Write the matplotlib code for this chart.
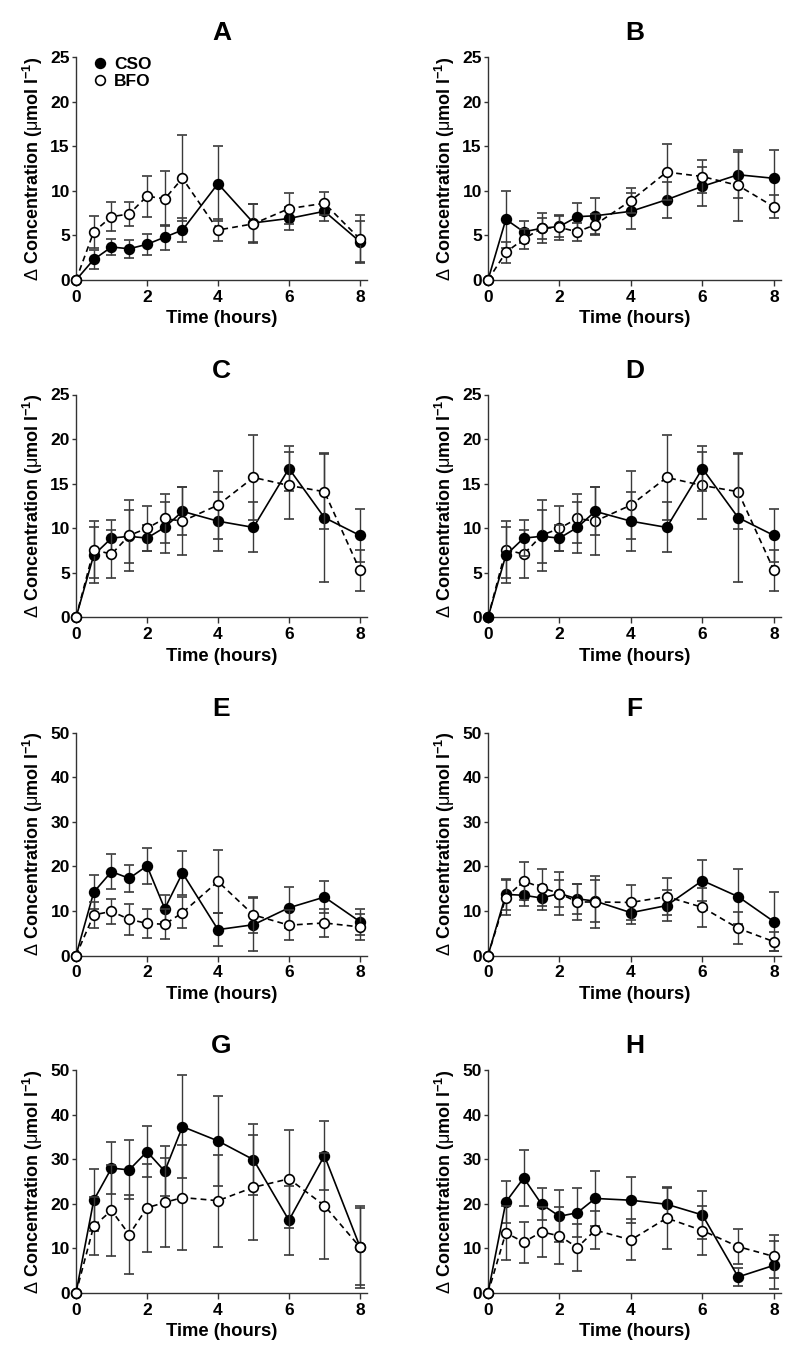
import matplotlib
matplotlib.use("Agg")
import matplotlib.pyplot as plt
from matplotlib.lines import Line2D

plt.rcParams["font.family"] = ["Liberation Sans", "DejaVu Sans"]
plt.rcParams["mathtext.fontset"] = "custom"
plt.rcParams["mathtext.rm"] = "Liberation Sans"
plt.rcParams["mathtext.bf"] = "Liberation Sans:bold"
plt.rcParams["mathtext.it"] = "Liberation Sans:italic"

# sampling times (hours)
time_h = [0, 0.5, 1, 1.5, 2, 2.5, 3, 4, 5, 6, 7, 8]

# panel A
a_cso = [0, 2.3, 3.7, 3.5, 4.0, 4.8, 5.6, 10.8, 6.4, 6.9, 7.7, 4.3]
a_cso_err = [0, 1.1, 0.9, 1.0, 1.2, 1.4, 1.3, 4.2, 2.1, 1.3, 1.1, 2.3]
a_bfo = [0, 5.4, 7.1, 7.4, 9.4, 9.1, 11.4, 5.6, 6.3, 8.0, 8.6, 4.6]
a_bfo_err = [0, 1.8, 1.6, 1.4, 2.3, 3.1, 4.8, 1.2, 2.2, 1.7, 1.3, 2.7]

# panel B
b_cso = [0, 6.8, 5.4, 5.8, 6.0, 7.1, 7.2, 7.7, 9.0, 10.5, 11.8, 11.4]
b_cso_err = [0, 3.2, 1.2, 1.2, 1.2, 1.5, 2.0, 2.0, 2.0, 2.2, 2.6, 3.2]
b_bfo = [0, 3.1, 4.6, 5.8, 5.9, 5.4, 6.2, 8.9, 12.1, 11.6, 10.6, 8.2]
b_bfo_err = [0, 1.2, 1.1, 1.7, 1.4, 1.0, 1.2, 1.4, 3.1, 1.9, 4.0, 1.3]

# panel C
c_cso = [0, 7.0, 8.9, 9.1, 8.9, 10.1, 11.9, 10.8, 10.1, 16.7, 11.2, 9.2]
c_cso_err = [0, 3.1, 2.0, 3.0, 1.5, 2.9, 2.7, 3.3, 2.8, 2.5, 7.2, 3.0]
c_bfo = [0, 7.6, 7.1, 9.2, 10.0, 11.1, 10.8, 12.6, 15.7, 14.8, 14.1, 5.3]
c_bfo_err = [0, 3.2, 2.7, 4.0, 2.5, 2.7, 3.8, 3.8, 4.8, 3.8, 4.2, 2.3]

# panel D (same values as C in the original figure)
d_cso = [0, 7.0, 8.9, 9.1, 8.9, 10.1, 11.9, 10.8, 10.1, 16.7, 11.2, 9.2]
d_cso_err = [0, 3.1, 2.0, 3.0, 1.5, 2.9, 2.7, 3.3, 2.8, 2.5, 7.2, 3.0]
d_bfo = [0, 7.6, 7.1, 9.2, 10.0, 11.1, 10.8, 12.6, 15.7, 14.8, 14.1, 5.3]
d_bfo_err = [0, 3.2, 2.7, 4.0, 2.5, 2.7, 3.8, 3.8, 4.8, 3.8, 4.2, 2.3]

# panel E
e_cso = [0, 14.2, 18.8, 17.3, 20.1, 10.5, 18.5, 5.8, 6.9, 10.7, 13.1, 7.6]
e_cso_err = [0, 3.8, 4.0, 3.0, 4.0, 3.1, 5.0, 3.7, 5.9, 4.6, 3.5, 2.9]
e_bfo = [0, 9.1, 9.9, 8.1, 7.2, 7.0, 9.6, 16.6, 9.1, 6.8, 7.3, 6.4]
e_bfo_err = [0, 3.0, 2.8, 3.4, 3.3, 3.4, 3.5, 7.0, 4.1, 3.3, 3.1, 2.9]

# panel F
f_cso = [0, 13.7, 13.5, 12.9, 13.9, 12.7, 12.2, 9.6, 11.2, 16.8, 13.2, 7.6]
f_cso_err = [0, 3.5, 2.4, 2.8, 3.0, 3.4, 4.7, 2.6, 3.4, 4.6, 6.1, 6.6]
f_bfo = [0, 13.0, 16.7, 15.2, 13.9, 12.0, 12.0, 11.9, 13.2, 10.8, 6.1, 3.1]
f_bfo_err = [0, 3.9, 4.2, 4.1, 4.8, 4.0, 5.8, 3.9, 4.2, 4.3, 3.6, 2.2]

# panel G
g_cso = [0, 20.8, 28.0, 27.6, 31.7, 27.3, 37.3, 34.1, 29.9, 16.3, 30.8, 10.4]
g_cso_err = [0, 6.9, 5.8, 6.6, 5.8, 5.6, 11.5, 10.0, 7.9, 7.8, 7.8, 8.7]
g_bfo = [0, 15.0, 18.5, 13.1, 19.1, 20.3, 21.4, 20.7, 23.7, 25.6, 19.6, 10.3]
g_bfo_err = [0, 6.5, 10.2, 8.9, 9.9, 10.0, 11.8, 10.3, 11.8, 11.0, 11.9, 9.1]

# panel H
h_cso = [0, 20.4, 25.8, 19.9, 17.2, 18.0, 21.2, 20.8, 19.9, 17.5, 3.6, 6.2]
h_cso_err = [0, 4.8, 6.2, 3.6, 5.8, 5.5, 6.2, 5.2, 3.7, 5.3, 2.0, 5.4]
h_bfo = [0, 13.5, 11.4, 13.7, 12.8, 10.2, 14.1, 11.9, 16.8, 14.0, 10.4, 8.2]
h_bfo_err = [0, 6.0, 4.6, 5.6, 6.4, 5.2, 4.2, 4.6, 6.9, 5.4, 4.0, 4.8]

panel_names = ["A", "B", "C", "D", "E", "F", "G", "H"]
panel_ymax = [25, 25, 25, 25, 50, 50, 50, 50]
panel_ystep = [5, 5, 5, 5, 10, 10, 10, 10]
panels = [
    (a_cso, a_cso_err, a_bfo, a_bfo_err),
    (b_cso, b_cso_err, b_bfo, b_bfo_err),
    (c_cso, c_cso_err, c_bfo, c_bfo_err),
    (d_cso, d_cso_err, d_bfo, d_bfo_err),
    (e_cso, e_cso_err, e_bfo, e_bfo_err),
    (f_cso, f_cso_err, f_bfo, f_bfo_err),
    (g_cso, g_cso_err, g_bfo, g_bfo_err),
    (h_cso, h_cso_err, h_bfo, h_bfo_err),
]

W, H = 800, 1364
fig = plt.figure(figsize=(W / 100, H / 100), dpi=100)

# axes boxes in pixels: left, top, width, height
col_left = [76, 488]
col_width = [291, 293]
row_top = [57, 394.5, 732.5, 1070]
ax_h = 223

ylabel = r"$\Delta$ Concentration ($\mathrm{\mu}$mol l$^{\mathbf{-1}}$)"
err_color = "#3a3a3a"
msize = 7

for i, name in enumerate(panel_names):
    r, c = divmod(i, 2)
    left, top, w = col_left[c], row_top[r], col_width[c]
    ax = fig.add_axes([left / W, 1 - (top + ax_h) / H, w / W, ax_h / H])
    cso, cso_err, bfo, bfo_err = panels[i]

    # BFO drawn on top except in panel D
    z_cso, z_bfo = (4, 3) if name == "D" else (3, 4)

    ax.errorbar(time_h, cso, yerr=cso_err, color="black", lw=1.2,
                marker="o", ms=msize, mfc="black", mec="black", mew=1.2,
                ecolor=err_color, elinewidth=1, capsize=3.6, capthick=1,
                zorder=z_cso)
    ax.errorbar(time_h, bfo, yerr=bfo_err, color="black", lw=1.2,
                ls=(0, (3.5, 2.5)), marker="o", ms=msize, mfc="white",
                mec="black", mew=1.2, ecolor=err_color, elinewidth=1,
                capsize=3.6, capthick=1, zorder=z_bfo)

    for art in ax.lines + ax.collections:
        art.set_clip_on(False)

    ax.set_xlim(0, 8.2)
    ax.set_ylim(0, panel_ymax[i])
    ax.set_xticks([0, 2, 4, 6, 8])
    ax.set_yticks(range(0, panel_ymax[i] + 1, panel_ystep[i]))
    for sp in ["top", "right"]:
        ax.spines[sp].set_visible(False)
    for sp in ["left", "bottom"]:
        ax.spines[sp].set_color("#333333")
        ax.spines[sp].set_linewidth(1.0)
    ax.tick_params(axis="y", length=3, width=1, pad=1.5, color="#333333",
                   labelsize=12.5)
    ax.tick_params(axis="x", length=4, width=1, pad=3, color="#333333",
                   labelsize=12.5)
    for lab in ax.get_xticklabels() + ax.get_yticklabels():
        lab.set_fontweight("bold")

    ax.set_title(name, fontsize=19, fontweight="bold", pad=12)
    ax.set_xlabel("Time (hours)", fontsize=13.3, fontweight="bold", labelpad=4)
    ax.set_ylabel(ylabel, fontsize=13, fontweight="bold")
    ax.yaxis.set_label_coords(-0.105, 0.5)

    if name == "A":
        handles = [
            Line2D([], [], ls="none", marker="o", ms=msize, mfc="black",
                   mec="black", mew=1.2),
            Line2D([], [], ls="none", marker="o", ms=msize, mfc="white",
                   mec="black", mew=1.2),
        ]
        ax.legend(handles, ["CSO", "BFO"], loc="upper left",
                  bbox_to_anchor=(0.06, 1.0), frameon=False,
                  prop={"weight": "bold", "size": 12.5}, handlelength=0.8,
                  handletextpad=0.4, labelspacing=0.1, borderpad=0,
                  borderaxespad=0)

fig.savefig("out.png", dpi=100)
